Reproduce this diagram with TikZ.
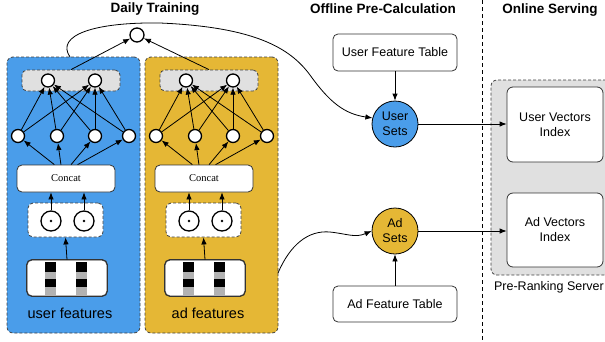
\documentclass[tikz,border=0pt]{standalone}
\usepackage{fontspec}
\setmainfont{Liberation Sans}
\newfontfamily\concatfont{Liberation Serif}
\usetikzlibrary{arrows.meta}
\definecolor{ublue}{HTML}{4A9DEA}
\definecolor{ayellow}{HTML}{E5B735}
\definecolor{lgray}{HTML}{E0E0E0}
\begin{document}
\begin{tikzpicture}[x=1pt,y=-1pt,
 arr/.style={-{Latex[length=7pt,width=5.5pt]},line width=0.8pt,black},
 neuron/.style={circle,draw,line width=1.3pt,fill=white,minimum size=13pt,inner sep=0pt},
 panel/.style={draw=black!75,dash pattern=on 3pt off 2pt,line width=0.8pt,rounded corners=6pt,inner sep=0pt},
 wbox/.style={draw=black!80,fill=white,rounded corners=5pt,line width=0.8pt,inner sep=0pt},
 title/.style={font=\fontsize{13.5}{16}\selectfont\bfseries},
 lbl/.style={font=\fontsize{12.5}{15}\selectfont,align=center},
 odot/.style={circle,draw,line width=1.3pt,fill=white,minimum size=20pt,inner sep=0pt},
]
\clip (0,0) rectangle (605,341);
\useasboundingbox (0,0) rectangle (605,341);

% titles
\node[title] (t1) at (155,9) {Daily Training};
\node[title] (t2) at (383,9) {Offline Pre-Calculation};
\node[title] (t3) at (550,10) {Online Serving};

% dashed separator
\coordinate (dtop) at (482,0);
\coordinate (dbot) at (482,341);
\draw[line width=0.8pt,dash pattern=on 4pt off 3pt] (dtop) -- (dbot);

\node[neuron,minimum size=14pt] (top) at (137,35) {};

\foreach \p/\o/\c/\t in {u/0/ublue/user features, a/138/ayellow/ad features}{
  \node[panel,fill=\c,minimum width=133pt,minimum height=276pt] (\p-panel) at (73.5+\o,195) {};
  \node[panel,fill=lgray,rounded corners=5pt,minimum width=98pt,minimum height=21pt] (\p-gray) at (71+\o,80.5) {};
  \node[neuron] (\p-y1) at (48+\o,80.5) {};
  \node[neuron] (\p-y2) at (95+\o,80.5) {};
  \foreach \i/\x in {1/18,2/57,3/95,4/129}{
    \node[neuron] (\p-h\i) at (\x+\o,136) {};
  }
  \node[wbox,minimum width=98pt,minimum height=27pt,font=\concatfont\fontsize{10.5}{12}\selectfont] (\p-concat) at (66+\o,178.5) {Concat};
  \node[panel,fill=white,rounded corners=5pt,minimum width=75pt,minimum height=34pt] (\p-dash) at (65.5+\o,220) {};
  \node[odot] (\p-o1) at (51+\o,221) {};
  \node[odot] (\p-o2) at (84+\o,221) {};
  \fill (\p-o1) circle (1.3pt);
  \fill (\p-o2) circle (1.3pt);
  \node[wbox,minimum width=80pt,minimum height=36pt] (\p-feat) at (67+\o,278) {};
  \foreach \bx in {45,76}{
    \fill[black] (\bx+\o,262) rectangle (\bx+11+\o,272);
    \fill[black!30] (\bx+\o,272) rectangle (\bx+11+\o,279);
    \fill[black] (\bx+\o,279) rectangle (\bx+11+\o,287);
    \fill[black!30] (\bx+\o,287) rectangle (\bx+11+\o,295.6);
  }
  \draw[black!80,line width=0.8pt,rounded corners=5pt] (\p-feat.south west) rectangle (\p-feat.north east);
  \node[font=\fontsize{14.5}{17}\selectfont] (\p-label) at (70+\o,313) {\t};
  % connectors
  \foreach \i/\a in {1/130,2/110,3/70,4/50}{
    \draw[arr] (\p-concat.\a) -- (\p-h\i);
  }
  \foreach \i in {1,...,4}{
    \draw[arr] (\p-h\i) -- (\p-y1);
    \draw[arr] (\p-h\i) -- (\p-y2);
  }
  \draw[arr] (\p-o1) -- (\p-o1 |- \p-concat.south);
  \draw[arr] (\p-o2) -- (\p-o2 |- \p-concat.south);
  \draw[arr] (\p-feat.north) -- (\p-dash.south);
  \draw[arr] (\p-gray.north) -- (top);
}

% offline
\node[wbox,minimum width=124pt,minimum height=37pt,lbl] (uft) at (395,52.5) {User Feature Table};
\node[circle,draw,line width=0.8pt,fill=ublue,minimum size=46pt,inner sep=0pt,lbl] (usets) at (395,124) {User\\Sets};
\node[circle,draw,line width=0.8pt,fill=ayellow,minimum size=46pt,inner sep=0pt,lbl] (asets) at (395,231) {Ad\\Sets};
\node[wbox,minimum width=124pt,minimum height=36pt,lbl] (aft) at (395,304) {Ad Feature Table};
\draw[arr] (uft) -- (usets);
\draw[arr] (aft) -- (asets);

% online
\node[panel,fill=lgray,minimum width=121pt,minimum height=195pt] (server) at (551.5,177.5) {};
\node[wbox,rounded corners=6pt,minimum width=96pt,minimum height=75pt,lbl] (uvi) at (555,124.5) {User Vectors\\Index};
\node[wbox,rounded corners=6pt,minimum width=96pt,minimum height=74pt,lbl] (avi) at (555,230) {Ad Vectors\\Index};
\node[lbl] (srvlbl) at (549,287) {Pre-Ranking Server};
\draw[arr] (usets.east) -- (usets.east -| uvi.west);
\draw[arr] (asets.east) -- (asets.east -| avi.west);

% curves
\coordinate (ustart) at (70,57);
\draw[arr] (ustart) .. controls (55,35) and (95,22) .. (160,23) .. controls (255,27) and (290,48) .. (310,75) .. controls (330,103) and (345,114) .. (usets.165);
\coordinate (astart) at (278,273);
\draw[arr] (astart) .. controls (290,245) and (308,230) .. (330,232) .. controls (348,234) and (355,238) .. (asets.west);
\end{tikzpicture}
\end{document}
